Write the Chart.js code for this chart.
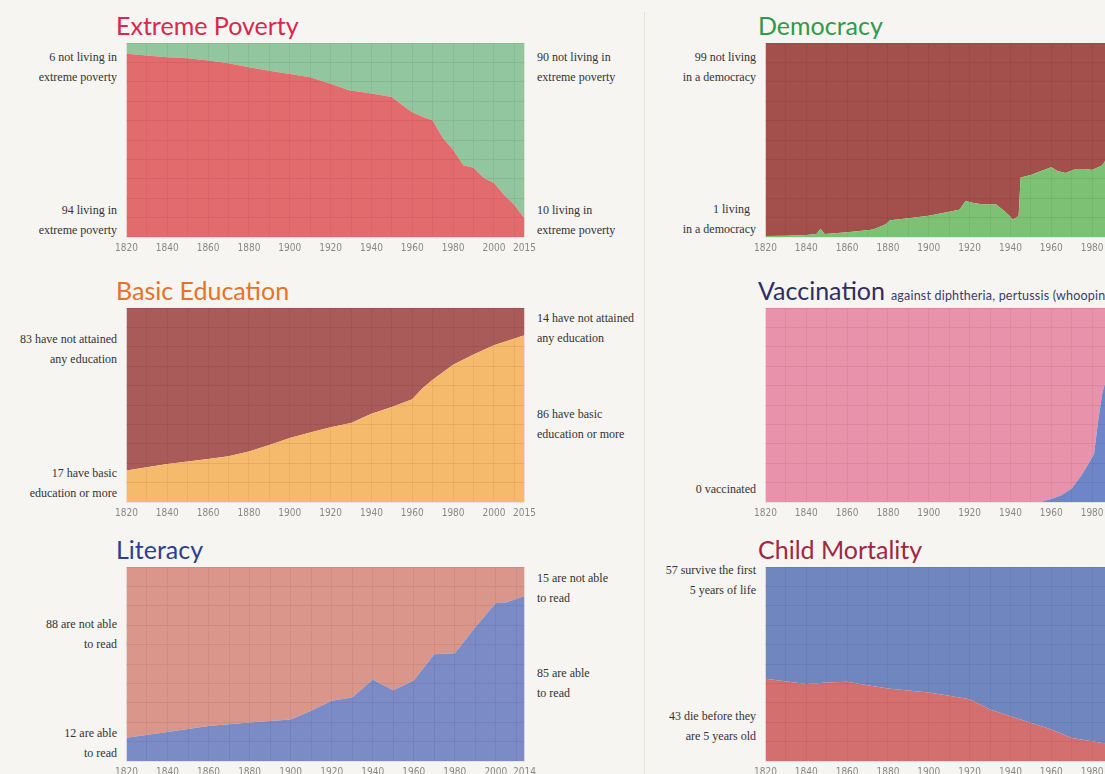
<!DOCTYPE html>
<html>
<head>
<meta charset="utf-8">
<script src="https://cdn.jsdelivr.net/npm/chart.js@4"></script>
<style>
  html, body { margin: 0; padding: 0; }
  body {
    width: 1105px; height: 774px; overflow: hidden; position: relative;
    background: #f7f5f1; font-family: 'Liberation Serif', serif;
  }
  .title { position: absolute; font-family: 'Lato', sans-serif; font-size: 25px; line-height: 30px; white-space: nowrap; }
  .sub { font-size: 12.5px; letter-spacing: 0.2px; color: #3b3a72; margin-left: 6px; }
  .note { position: absolute; font-size: 12px; line-height: 20px; color: #333; white-space: nowrap; }
  .l { text-align: right; }
  canvas { position: absolute; }
  .divider { position: absolute; left: 644px; top: 12px; width: 1px; height: 762px; background: #e4e1db; }
</style>
</head>
<body>
<div class="divider"></div>

<div class="title" style="left:116px;top:10px;color:#d8284f">Extreme Poverty</div>
<div class="title" style="left:758px;top:10px;color:#2e9b4c">Democracy</div>
<div class="title" style="left:116px;top:275px;color:#e6732b">Basic Education</div>
<div class="title" style="left:758px;top:275px;color:#2f2d66">Vaccination<span class="sub">against diphtheria, pertussis (whooping cough) and tetanus</span></div>
<div class="title" style="left:116px;top:534px;color:#2e3f8f">Literacy</div>
<div class="title" style="left:758px;top:534px;color:#9e2842">Child Mortality</div>

<div class="note l" style="right:988px;top:47px">6 not living in<br>extreme poverty</div>
<div class="note l" style="right:988px;top:200px">94 living in<br>extreme poverty</div>
<div class="note" style="left:537px;top:47px">90 not living in<br>extreme poverty</div>
<div class="note" style="left:537px;top:200px">10 living in<br>extreme poverty</div>

<div class="note l" style="right:349px;top:47px">99 not living<br>in a democracy</div>
<div class="note l" style="right:349px;top:199px">1 living&nbsp;&nbsp;<br>in a democracy</div>

<div class="note l" style="right:988px;top:329px">83 have not attained<br>any education</div>
<div class="note l" style="right:988px;top:463px">17 have basic<br>education or more</div>
<div class="note" style="left:537px;top:308px">14 have not attained<br>any education</div>
<div class="note" style="left:537px;top:404px">86 have basic<br>education or more</div>

<div class="note l" style="right:349px;top:479px">0 vaccinated</div>

<div class="note l" style="right:988px;top:614px">88 are not able<br>to read</div>
<div class="note l" style="right:988px;top:723px">12 are able<br>to read</div>
<div class="note" style="left:537px;top:568px">15 are not able<br>to read</div>
<div class="note" style="left:537px;top:663px">85 are able<br>to read</div>

<div class="note l" style="right:349px;top:560px">57 survive the first<br>5 years of life</div>
<div class="note l" style="right:349px;top:706px">43 die before they<br>are 5 years old</div>

<canvas id="poverty"></canvas>
<canvas id="democracy"></canvas>
<canvas id="education"></canvas>
<canvas id="vaccination"></canvas>
<canvas id="literacy"></canvas>
<canvas id="mortality"></canvas>

<script>
// share of world population, in percent (bottom series of each panel)
const povertyYears = [1820, 1830, 1840, 1850, 1860, 1870, 1880, 1890, 1900, 1910, 1920, 1929, 1940, 1950, 1955, 1960, 1965, 1970, 1975, 1980, 1985, 1990, 1995, 2000, 2005, 2010, 2015];
const livingInPoverty = [94.4, 93.5, 92.7, 92.2, 91, 89.6, 87.5, 85.7, 84, 82.3, 79, 75.7, 74, 72.2, 68, 64.3, 62, 60, 51, 45, 37, 35.7, 30.4, 27.8, 21.7, 16.5, 9.6];

const democracyYears = [1820, 1830, 1840, 1845, 1847, 1849, 1860, 1871, 1873, 1879, 1881, 1890, 1900, 1910, 1915, 1918, 1922, 1927, 1933, 1937, 1940, 1941, 1943, 1944, 1945, 1950, 1955, 1960, 1963, 1967, 1972, 1977, 1980, 1985, 1990, 1995, 2000, 2005, 2010, 2015];
const livingInDemocracy = [0.5, 0.7, 1.0, 1.5, 4.3, 1.6, 2.5, 3.6, 4, 6.6, 8.6, 9.7, 10.9, 13, 14, 18.5, 17.5, 16.8, 16.8, 13.4, 10.5, 9, 10, 11, 30.7, 32, 34, 36, 34, 33, 35, 35, 34.5, 37, 45, 50, 52, 54, 55, 56];

const educationYears = [1820, 1840, 1860, 1870, 1880, 1890, 1900, 1910, 1920, 1930, 1940, 1950, 1960, 1965, 1970, 1980, 1990, 2000, 2015];
const basicEducation = [16.3, 19.6, 22.2, 23.6, 26, 29.4, 33, 35.8, 38.5, 40.7, 45.5, 49, 53, 58.6, 63, 70.8, 76, 80.8, 86];

const vaccinationYears = [1820, 1955, 1960, 1965, 1970, 1975, 1979, 1981, 1983, 1985, 1990, 1995, 2000, 2005, 2010, 2015];
const vaccinated = [0, 0, 1.5, 3.5, 7, 14, 21, 25, 42, 56, 75, 78, 80, 83, 85, 86];

const literacyYears = [1820, 1840, 1860, 1880, 1900, 1910, 1920, 1930, 1940, 1950, 1960, 1970, 1980, 1990, 2000, 2005, 2014];
const ableToRead = [12, 15, 18, 19.8, 21.4, 25.9, 31, 32.7, 42, 36.5, 41.5, 55, 55.6, 69, 81.4, 81.7, 85];

const mortalityYears = [1820, 1840, 1850, 1860, 1870, 1880, 1900, 1910, 1920, 1930, 1940, 1950, 1960, 1970, 1980, 1985, 1990, 2000, 2010, 2015];
const dieBeforeFive = [42.4, 39.7, 40.5, 40.9, 39.1, 37.4, 35.3, 33.6, 31.8, 26.6, 23.1, 19.7, 16.2, 11.8, 10.2, 9.3, 9.0, 7.6, 5.6, 4.3];

const tickFont = { family: "'Liberation Sans Narrow', 'DejaVu Sans Condensed', sans-serif", size: 10 };

function drawPanel(id, left, top, years, share, bottomColor, topColor, lastYear) {
  const padX = 14, axisH = 20, plotW = 403, plotH = 194;
  const canvas = document.getElementById(id);
  canvas.width = plotW + padX * 2;
  canvas.height = plotH + axisH;
  canvas.style.left = (left - padX) + "px";
  canvas.style.top = top + "px";

  new Chart(canvas, {
    type: "line",
    data: {
      datasets: [
        {
          data: years.map((y, i) => ({ x: y, y: share[i] })),
          backgroundColor: bottomColor,
          fill: "origin",
        },
        {
          data: years.map((y, i) => ({ x: y, y: 100 - share[i] })),
          backgroundColor: topColor,
          fill: "-1",
        },
      ],
    },
    options: {
      responsive: false,
      animation: false,
      layout: { padding: { left: padX, right: padX, top: 0, bottom: 0 } },
      elements: { line: { borderWidth: 0, tension: 0 }, point: { radius: 0 } },
      plugins: { legend: { display: false }, tooltip: { enabled: false } },
      scales: {
        x: {
          type: "linear",
          min: 1820,
          max: lastYear,
          border: { display: false },
          // gridlines are drawn over the filled areas
          grid: { z: 1, color: "rgba(40,0,0,0.05)", drawTicks: false },
          afterBuildTicks: (scale) => {
            const ticks = [];
            for (let v = 1820; v < lastYear; v += 10) ticks.push({ value: v });
            ticks.push({ value: lastYear });
            scale.ticks = ticks;
          },
          afterFit: (scale) => { scale.height = axisH; },
          ticks: {
            autoSkip: false,
            maxRotation: 0,
            padding: 5,
            color: "#888",
            font: tickFont,
            callback: (v) => ((v - 1820) % 20 === 0 || v === lastYear ? String(v) : ""),
          },
        },
        y: {
          stacked: true,
          min: 0,
          max: 100,
          border: { display: false },
          grid: { z: 1, color: "rgba(40,0,0,0.07)", drawTicks: false },
          afterFit: (scale) => { scale.width = 0; },
          ticks: { display: false, stepSize: 10 },
        },
      },
    },
  });
}

drawPanel("poverty", 124, 43, povertyYears, livingInPoverty, "#e26b6d", "#91c69e", 2015);
drawPanel("democracy", 763, 43, democracyYears, livingInDemocracy, "#7dc274", "#a34f4b", 2015);
drawPanel("education", 124, 308, educationYears, basicEducation, "#f6ba6c", "#a85b59", 2015);
drawPanel("vaccination", 763, 308, vaccinationYears, vaccinated, "#6c86c8", "#e893ab", 2015);
drawPanel("literacy", 124, 567, literacyYears, ableToRead, "#7b8bc6", "#da968b", 2014);
drawPanel("mortality", 763, 567, mortalityYears, dieBeforeFive, "#d46f6f", "#6f86bf", 2015);
</script>
</body>
</html>
